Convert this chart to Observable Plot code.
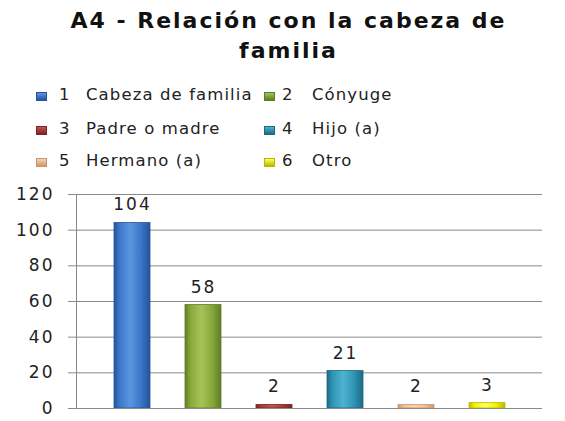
<!DOCTYPE html>
<html><head><meta charset="utf-8">
<script src="https://cdn.jsdelivr.net/npm/d3@7"></script>
<script src="https://cdn.jsdelivr.net/npm/@observablehq/plot@0.6"></script>
<style>
body{margin:0;background:#fff;}
#wrap{position:relative;width:565px;height:421px;overflow:hidden;font-family:"DejaVu Sans",sans-serif;background:#fff;}
#title{position:absolute;left:0;top:6px;width:577px;text-align:center;font-weight:bold;font-size:22px;line-height:30px;color:#111;letter-spacing:2px;}
.leg{position:absolute;font-size:16.5px;line-height:20px;letter-spacing:1.1px;color:#222;white-space:nowrap;}
.sw{position:absolute;width:9px;height:7px;}
#chart{position:absolute;left:0;top:180px;}
#chart svg text{letter-spacing:2px;}
</style></head>
<body><div id="wrap"><div id="title"></div><div id="legend"></div><div id="chart"></div></div>
<script>
const titleLines = ["A4 - Relación con la cabeza de", "familia"];
const categories = ["1", "2", "3", "4", "5", "6"];
const labels = ["Cabeza de familia", "Cónyuge", "Padre o madre", "Hijo (a)", "Hermano (a)", "Otro"];
const values = [104, 58, 2, 21, 2, 3];
const colors = ["#3b76c9", "#89a83c", "#a83a36", "#2f95b4", "#efbf95", "#f2f200"];
const lightColors = ["#5b95e0", "#a3c458", "#c45550", "#4fb3d0", "#f8d6b6", "#ffff60"];
const edgeColors = ["#24549a", "#617d24", "#7a2422", "#1c6a85", "#c9976a", "#b8b800"];
const yTicks = [0, 20, 40, 60, 80, 100, 120];

document.getElementById("title").innerHTML = titleLines.join("<br>");

// legend (2 columns x 3 rows)
const legend = document.getElementById("legend");
const colX = [{sw: 36, num: 59, lab: 86}, {sw: 264, num: 282, lab: 312}];
const rowBase = [101, 135, 167];
categories.forEach((c, i) => {
  const col = colX[i % 2], base = rowBase[Math.floor(i / 2)];
  const sw = document.createElement("div");
  sw.className = "sw";
  sw.style.left = col.sw + "px";
  sw.style.top = (base - 9) + "px";
  sw.style.background = `linear-gradient(to bottom, ${lightColors[i]}, ${edgeColors[i]})`;
  sw.style.border = `0.5px solid ${edgeColors[i]}`;
  legend.appendChild(sw);
  const n = document.createElement("div");
  n.className = "leg"; n.textContent = c;
  n.style.left = col.num + "px"; n.style.top = (base - 15.7) + "px";
  legend.appendChild(n);
  const l = document.createElement("div");
  l.className = "leg"; l.textContent = labels[i];
  l.style.left = col.lab + "px"; l.style.top = (base - 15.7) + "px";
  legend.appendChild(l);
});

const data = categories.map((c, i) => ({cat: c, label: labels[i], value: values[i]}));

const chart = Plot.plot({
  width: 565,
  height: 241,
  marginLeft: 76,
  marginRight: 23,
  marginTop: 14,
  marginBottom: 13,
  style: {fontFamily: "DejaVu Sans", fontSize: "17px", color: "#222", background: "transparent"},
  x: {domain: categories, padding: 0.5, axis: null},
  y: {domain: [0, 120], axis: null},
  color: {domain: categories, range: categories.map((c, i) => `url(#grad${i})`)},
  marks: [
    Plot.gridY(yTicks, {stroke: "#8a8a8a", strokeOpacity: 1, strokeWidth: 1}),
    Plot.axisY(yTicks, {tickSize: 8, tickPadding: 14, stroke: "#8a8a8a", fill: "#222", label: null, fontSize: 17}),
    Plot.frame({anchor: "left", stroke: "#8a8a8a"}),
    Plot.barY(data, {x: "cat", y: "value", fill: "cat", stroke: (d, i) => edgeColors[i], strokeWidth: 0.8}),
    Plot.ruleY([0], {stroke: "#8a8a8a"}),
    Plot.text(data, {x: "cat", y: "value", text: d => String(d.value), dy: -18, fontSize: 17, fill: "#222"})
  ]
});

// horizontal cylinder-like gradients for bars
const defs = d3.select(chart).insert("defs", ":first-child");
colors.forEach((c, i) => {
  const g = defs.append("linearGradient").attr("id", `grad${i}`).attr("x1", "0").attr("x2", "1").attr("y1", "0").attr("y2", "0");
  g.append("stop").attr("offset", "0%").attr("stop-color", edgeColors[i]);
  g.append("stop").attr("offset", "15%").attr("stop-color", c);
  g.append("stop").attr("offset", "45%").attr("stop-color", lightColors[i]);
  g.append("stop").attr("offset", "75%").attr("stop-color", c);
  g.append("stop").attr("offset", "100%").attr("stop-color", edgeColors[i]);
});

document.getElementById("chart").appendChild(chart);
</script></body></html>
